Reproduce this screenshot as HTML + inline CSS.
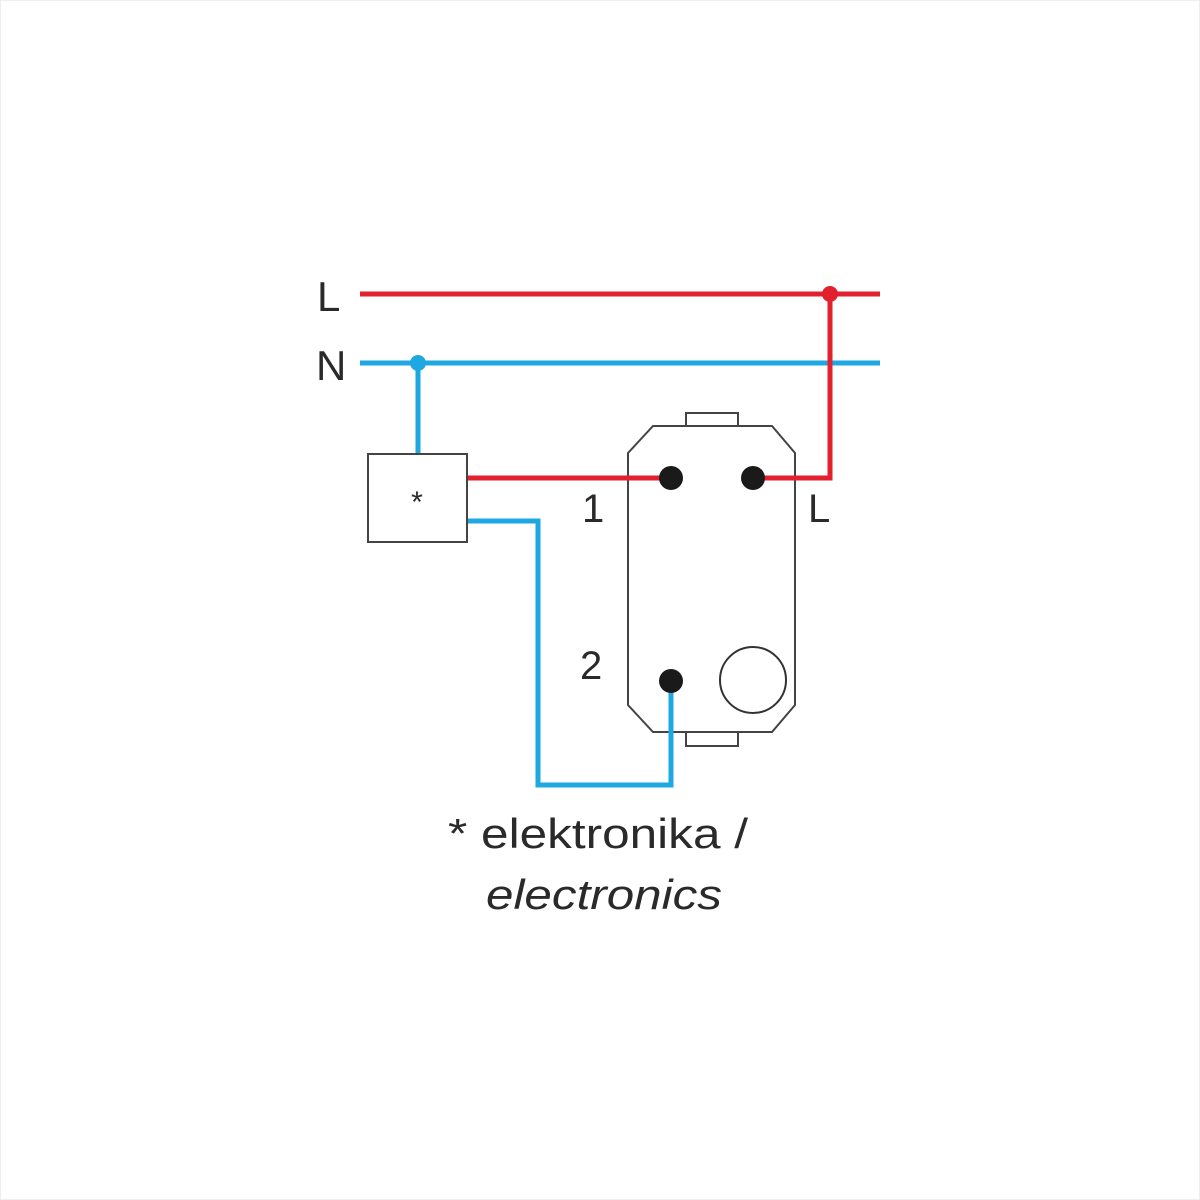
<!DOCTYPE html>
<html><head><meta charset="utf-8"><style>
html,body{margin:0;padding:0;background:#fff}
svg{display:block}
text{font-family:"Liberation Sans",sans-serif;fill:#2a2a2a}
</style></head><body>
<svg width="1200" height="1200" viewBox="0 0 1200 1200" xmlns="http://www.w3.org/2000/svg">
<rect x="0.5" y="0.5" width="1199" height="1199" fill="#fff" stroke="#eee"/>
<rect x="686" y="413" width="52" height="14" fill="#fff" stroke="#444" stroke-width="2"/>
<rect x="686" y="731" width="52" height="15" fill="#fff" stroke="#444" stroke-width="2"/>
<polygon points="653,426 772,426 795,453 795,705 772,732 653,732 628,705 628,453" fill="#fff" stroke="#444" stroke-width="2"/>
<circle cx="753" cy="680" r="33" fill="none" stroke="#333" stroke-width="2"/>
<line x1="360" y1="294" x2="880" y2="294" stroke="#e3202e" stroke-width="5"/>
<line x1="360" y1="363" x2="880" y2="363" stroke="#1ea7e1" stroke-width="5"/>
<polyline points="830,294 830,478 753,478" fill="none" stroke="#e3202e" stroke-width="5"/>
<line x1="467" y1="478" x2="671" y2="478" stroke="#e3202e" stroke-width="5"/>
<line x1="418" y1="363" x2="418" y2="454" stroke="#1ea7e1" stroke-width="5"/>
<polyline points="467,521 538,521 538,785 671,785 671,681" fill="none" stroke="#1ea7e1" stroke-width="5"/>
<circle cx="830" cy="294" r="8" fill="#e3202e"/>
<circle cx="418" cy="363" r="8" fill="#1ea7e1"/>
<circle cx="671" cy="478" r="12" fill="#1a1a1a"/>
<circle cx="753" cy="478" r="12" fill="#1a1a1a"/>
<circle cx="671" cy="681" r="12" fill="#1a1a1a"/>
<rect x="368" y="454" width="99" height="88" fill="#fff" stroke="#444" stroke-width="2"/>
<text x="417" y="512" font-size="30" text-anchor="middle">*</text>
<text x="317" y="311" font-size="42">L</text>
<text x="316" y="380" font-size="42">N</text>
<text x="582" y="522" font-size="40">1</text>
<text x="808" y="522" font-size="40">L</text>
<text x="580" y="679" font-size="40">2</text>
<text x="448" y="848" font-size="42" textLength="300" lengthAdjust="spacingAndGlyphs">* elektronika /</text>
<text x="486" y="909" font-size="42" font-style="italic" textLength="236" lengthAdjust="spacingAndGlyphs">electronics</text>
</svg>
</body></html>
